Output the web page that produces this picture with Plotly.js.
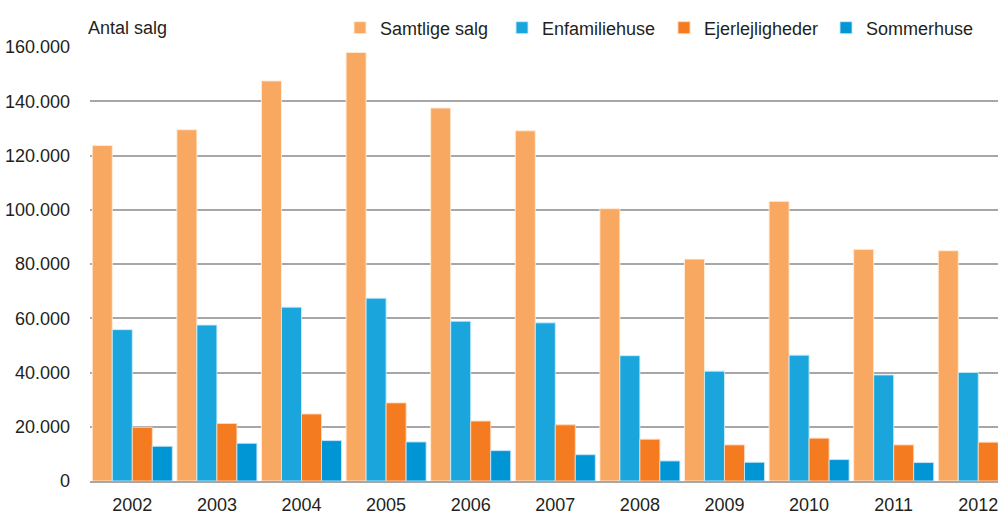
<!DOCTYPE html>
<html>
<head>
<meta charset="utf-8">
<script src="https://cdn.plot.ly/plotly-3.0.1.min.js"></script>
<style>html,body{margin:0;padding:0;background:#fff;}#chart{width:998px;height:516px;}</style>
</head>
<body>
<div id="chart"></div>
<script>
const years = ["2002","2003","2004","2005","2006","2007","2008","2009","2010","2011","2012"];
const samtligeSalg = [123700, 129500, 147500, 158000, 137500, 129100, 100400, 81800, 103100, 85400, 84900];
const enfamiliehuse = [55800, 57500, 64100, 67400, 58900, 58300, 46200, 40500, 46400, 39100, 40000];
const ejerlejligheder = [19800, 21200, 24700, 28800, 22100, 20700, 15400, 13300, 15800, 13300, 14300];
const sommerhuse = [12800, 13900, 14900, 14400, 11200, 9700, 7400, 6900, 7900, 6800, null];
const yTickVals = [0, 20000, 40000, 60000, 80000, 100000, 120000, 140000, 160000];
const yTickText = ["0", "20.000", "40.000", "60.000", "80.000", "100.000", "120.000", "140.000", "160.000"];

const FONT = '"Liberation Sans", Arial, sans-serif';
const FS = 18;
const series = [
  {name: "Samtlige salg", y: samtligeSalg, color: "#F9A862", line: "rgba(255,236,215,0.9)"},
  {name: "Enfamiliehuse", y: enfamiliehuse, color: "#1BA5DD", line: "rgba(200,236,250,0.9)"},
  {name: "Ejerlejligheder", y: ejerlejligheder, color: "#F47B20", line: "rgba(255,215,185,0.9)"},
  {name: "Sommerhuse", y: sommerhuse, color: "#0096D6", line: "rgba(195,230,248,0.9)"}
];
const data = series.map(s => ({
  type: "bar",
  name: s.name,
  x: years,
  y: s.y,
  marker: {color: s.color, line: {color: s.line, width: 1}},
  hoverinfo: "x+y+name"
}));

const layout = {
  width: 998, height: 516,
  margin: {l: 90, r: 0, t: 47, b: 35, pad: 0},
  paper_bgcolor: "#fff", plot_bgcolor: "#fff",
  font: {family: FONT, size: FS, color: "#231F20"},
  barmode: "group", bargap: 0.054, bargroupgap: 0,
  xaxis: {
    type: "category", range: [-0.5, 10.233], fixedrange: true,
    showgrid: false, showline: true, linecolor: "#A7A7AA", linewidth: 2,
    ticks: "", ticklabelstandoff: 6,
    tickfont: {family: FONT, size: FS, color: "#231F20"}
  },
  yaxis: {
    range: [0, 160000], fixedrange: true,
    tickvals: yTickVals, ticktext: yTickText,
    showgrid: true, gridcolor: "#A7A7AA", gridwidth: 2,
    zeroline: false, showline: false, ticks: "", ticklabelstandoff: 19,
    tickfont: {family: FONT, size: FS, color: "#231F20"}
  },
  showlegend: true,
  legend: {
    orientation: "h", xref: "container", yref: "container",
    x: 340/998, y: 1 - 28/516, xanchor: "left", yanchor: "middle",
    entrywidth: 117, entrywidthmode: "pixels",
    font: {family: FONT, size: FS, color: "#231F20"},
    bgcolor: "rgba(0,0,0,0)", itemclick: false, itemdoubleclick: false
  },
  annotations: [{
    text: "Antal salg", xref: "paper", yref: "paper",
    x: -4/908, y: 1 + 19/434, xanchor: "left", yanchor: "middle",
    showarrow: false, font: {family: FONT, size: FS, color: "#231F20"}
  }]
};

Plotly.newPlot("chart", data, layout, {displayModeBar: false, staticPlot: true});
</script>
</body>
</html>
